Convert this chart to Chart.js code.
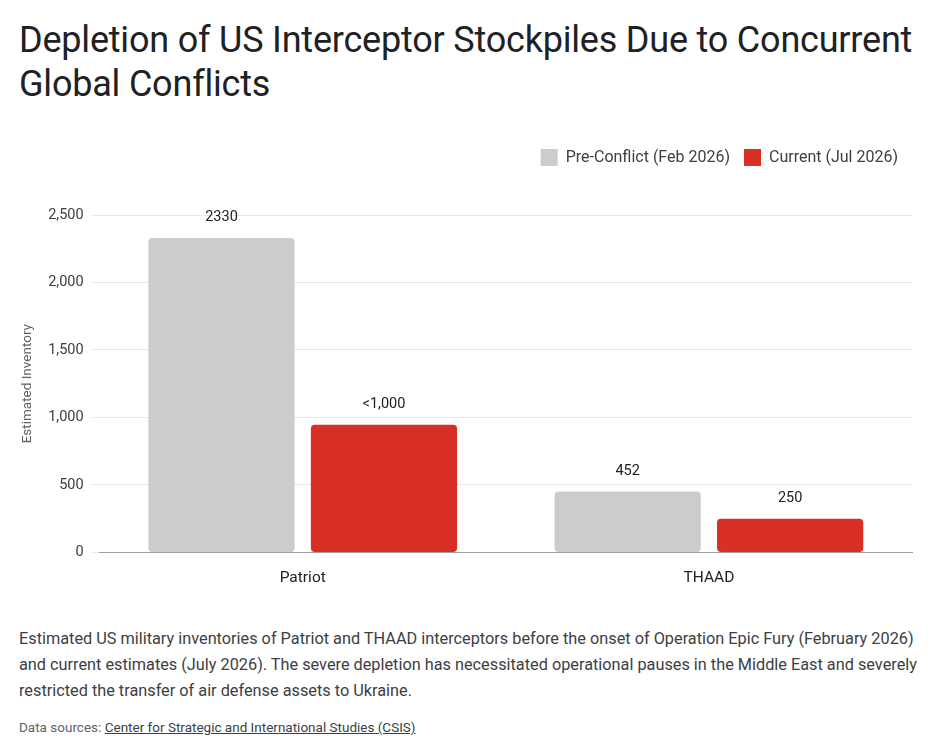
<!DOCTYPE html>
<html><head><meta charset="utf-8">
<script src="https://cdn.jsdelivr.net/npm/chart.js@4"></script>
<style>
body{margin:0;width:931px;height:756px;background:#fff;font-family:Roboto,"Noto Sans",sans-serif;color:#202124;position:relative;overflow:hidden}
h1{position:absolute;left:19px;top:18px;margin:0;font-weight:400;font-size:36px;line-height:44px;width:905px;letter-spacing:-0.2px}
#wrap{position:absolute;left:0;top:135px;width:931px;height:465px}
#cap{position:absolute;left:19px;top:626px;width:905px;font-size:16.3px;line-height:26px;color:#3c4043}
#src{position:absolute;left:19px;top:719px;font-size:13.5px;color:#5f6368}
#src a{color:#3c4043;text-decoration:underline}
</style></head><body>
<h1>Depletion of US Interceptor Stockpiles Due to Concurrent Global Conflicts</h1>
<div id="wrap"><canvas id="c"></canvas></div>
<div id="cap">Estimated US military inventories of Patriot and THAAD interceptors before the onset of Operation Epic Fury (February 2026) and current estimates (July 2026). The severe depletion has necessitated operational pauses in the Middle East and severely restricted the transfer of air defense assets to Ukraine.</div>
<div id="src">Data sources: <a>Center for Strategic and International Studies (CSIS)</a></div>
<script>
const categories=["Patriot","THAAD"];
const seriesNames=["Pre-Conflict (Feb 2026)","Current (Jul 2026)"];
const preConflict=[2330,452];
const current=[945,250];
const preLabels=["2330","452"];
const curLabels=["<1,000","250"];
const labelPlugin={id:'vl',afterDatasetsDraw(ch){const ctx=ch.ctx;ctx.save();ctx.font='14.5px Roboto';ctx.fillStyle='#202124';ctx.textAlign='center';ctx.textBaseline='bottom';
[preLabels,curLabels].forEach((labs,di)=>{ch.getDatasetMeta(di).data.forEach((b,i)=>{ctx.fillText(labs[i],b.x,b.y-13);});});ctx.restore();}};
new Chart(document.getElementById('c'),{type:'bar',
data:{labels:categories,datasets:[
{label:seriesNames[0],data:preConflict,backgroundColor:'#cccccc',borderRadius:4,borderSkipped:false,categoryPercentage:0.8,barPercentage:0.9},
{label:seriesNames[1],data:current,backgroundColor:'#d93025',borderRadius:4,borderSkipped:false,categoryPercentage:0.8,barPercentage:0.9}]},
options:{responsive:true,maintainAspectRatio:false,animation:false,
layout:{padding:{left:16,right:19,top:0,bottom:5}},
plugins:{tooltip:{enabled:false},legend:{position:'top',align:'end',labels:{boxWidth:17,boxHeight:17,font:{size:16,family:'Roboto'},color:'#3c4043',padding:14},
},},
scales:{x:{grid:{display:false},border:{color:'#9aa0a6'},ticks:{font:{size:15.5,family:'Roboto'},color:'#202124',padding:8}},
y:{min:0,max:2500,ticks:{stepSize:500,font:{size:14.5,family:'Roboto'},color:'#3c4043',padding:8},grid:{color:'#e8e8e8'},border:{display:false},
title:{display:true,text:'Estimated Inventory',font:{size:13.5,family:'Roboto'},color:'#5f6368'}}}},
plugins:[labelPlugin,{id:'lh',beforeInit(ch){const f=ch.legend.fit;ch.legend.fit=function(){f.bind(this)();this.height+=39;};}}]});
</script></body></html>
